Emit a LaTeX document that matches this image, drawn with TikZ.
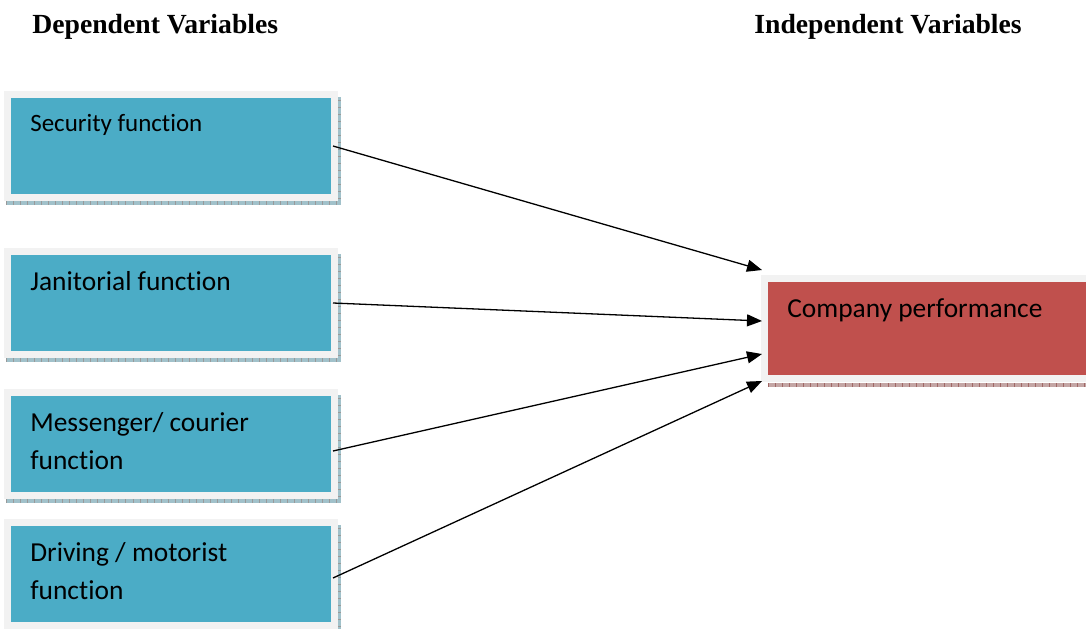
\documentclass[tikz,border=0pt]{standalone}
\usepackage{fontspec}
\setmainfont{Liberation Serif}
\newfontfamily\boxfont[Ligatures=NoCommon]{Carlito}
\usepackage{tikz}
\usetikzlibrary{arrows.meta, positioning, calc}

\definecolor{boxblue}{HTML}{4BACC6}
\definecolor{boxred}{HTML}{C0504D}
\definecolor{rimgray}{HTML}{F2F2F2}

\begin{document}
\begin{tikzpicture}[
    varbox/.style={rectangle, draw=rimgray, line width=0.14cm, fill=boxblue, minimum width=6.54cm, minimum height=2.07cm, inner sep=0pt, outer sep=0pt},
    outbox/.style={varbox, fill=boxred, minimum width=6.71cm, minimum height=2cm},
    boxtext/.style={anchor=north west, inner sep=0pt, align=left, font=\boxfont\fontsize{15.6}{22.1}\selectfont},
    title/.style={anchor=west, inner sep=0pt, font=\bfseries\fontsize{15.75}{18}\selectfont},
    shadowb/.style={line width=0.07cm, draw=gray!45!boxblue!60},
    shadowr/.style={line width=0.07cm, draw=boxred!45!gray!60},
    ticks/.style={line width=0.07cm, draw=gray!80, dash pattern=on 0.4pt off 3.6pt},
    arrow/.style={line width=0.026cm, -{Triangle[length=0.3cm, width=0.24cm]}}
]
    \path[use as bounding box, clip] (0,0) rectangle (21.72,-12.56);

    % headings
    \node (deptitle) [title] at (0.64,-0.54) {Dependent Variables};
    \node (indtitle) [title] at (15.08,-0.54) {Independent Variables};

    % left column
    \node (sec) [varbox] at (3.42,-2.92) {};
    \node (jan) [varbox] at (3.42,-6.06) {};
    \node (mes) [varbox] at (3.42,-8.88) {};
    \node (drv) [varbox] at (3.42,-11.48) {};
    \node (perf) [outbox] at (18.645,-6.57) {};

    \foreach \b in {sec,jan,mes,drv} {
        \draw[shadowb] ([xshift=-0.03cm,yshift=-0.1cm]\b.south west) -| ([xshift=0.1cm,yshift=-0.05cm]\b.north east);
        \draw[ticks] ([xshift=-0.03cm,yshift=-0.1cm]\b.south west) -| ([xshift=0.1cm,yshift=-0.05cm]\b.north east);
    }
    \draw[shadowr] ([xshift=0.07cm,yshift=-0.13cm]perf.south west) -- ([yshift=-0.13cm]perf.south east);
    \draw[ticks, draw=boxred!50!gray] ([xshift=0.07cm,yshift=-0.13cm]perf.south west) -- ([yshift=-0.13cm]perf.south east);

    \node [boxtext, font=\boxfont\fontsize{14.2}{22.1}\selectfont] at ([shift={(0.45cm,-0.39cm)}]sec.north west) {Security function};
    \node [boxtext] at ([shift={(0.45cm,-0.39cm)}]jan.north west) {Janitorial function};
    \node [boxtext] at ([shift={(0.45cm,-0.39cm)}]mes.north west) {Messenger/ courier\\function};
    \node [boxtext] at ([shift={(0.45cm,-0.39cm)}]drv.north west) {Driving / motorist\\function};
    \node [boxtext] at ([shift={(0.45cm,-0.39cm)}]perf.north west) {Company performance};

    % arrow ends
    \coordinate (end1) at ([shift={(-0.05cm,1.17cm)}]perf.west);
    \coordinate (end2) at ([shift={(-0.05cm,0.15cm)}]perf.west);
    \coordinate (end3) at ([shift={(-0.05cm,-0.51cm)}]perf.west);
    \coordinate (end4) at ([shift={(-0.05cm,-1.05cm)}]perf.west);

    \draw [arrow] ([xshift=-0.03cm]sec.east) -- (end1);
    \draw [arrow] ([xshift=-0.03cm]jan.east) -- (end2);
    \draw [arrow] ([shift={(-0.03cm,-0.14cm)}]mes.east) -- (end3);
    \draw [arrow] ([shift={(-0.03cm,-0.08cm)}]drv.east) -- (end4);
\end{tikzpicture}
\end{document}
